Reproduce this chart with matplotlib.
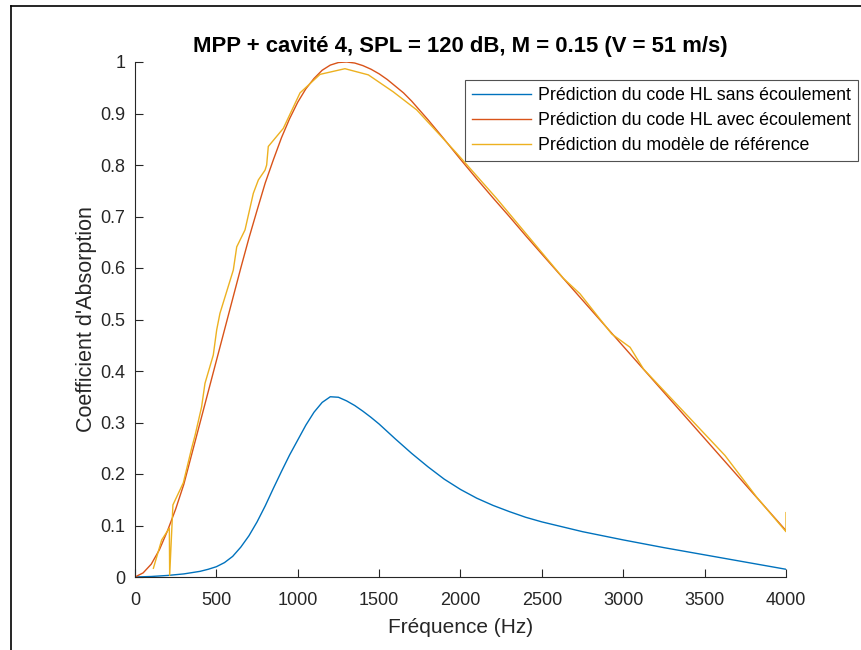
import matplotlib.pyplot as plt
from matplotlib.lines import Line2D

plt.rcParams['font.family'] = ['Liberation Sans', 'DejaVu Sans']

# blue: code HL sans ecoulement
f_sans = [0, 100, 200, 300, 400, 450, 500, 550, 600, 650, 700, 750, 800, 850, 900, 950,
          1000, 1050, 1100, 1150, 1200, 1250, 1300, 1350, 1400, 1450, 1500, 1600, 1700,
          1800, 1900, 2000, 2100, 2200, 2300, 2400, 2500, 2750, 3000, 3250, 3500, 3750, 4000]
a_sans = [0, 0.001, 0.003, 0.006, 0.011, 0.015, 0.02, 0.028, 0.04, 0.058, 0.08, 0.107, 0.138,
          0.172, 0.205, 0.237, 0.266, 0.295, 0.32, 0.339, 0.35, 0.349, 0.342, 0.333, 0.322,
          0.31, 0.297, 0.268, 0.24, 0.214, 0.19, 0.17, 0.153, 0.139, 0.127, 0.116, 0.107,
          0.088, 0.072, 0.057, 0.043, 0.029, 0.015]

# red: code HL avec ecoulement
f_avec = [0, 50, 100, 150, 200, 250, 300, 350, 400, 450, 500, 550, 600, 650, 700, 750, 800,
          850, 900, 950, 1000, 1050, 1100, 1150, 1200, 1250, 1300, 1350, 1400, 1450, 1500,
          1550, 1600, 1650, 1700, 1800, 1900, 2000, 2100, 2200, 2300, 2400, 2500, 3000,
          3500, 4000]
a_avec = [0, 0.008, 0.025, 0.053, 0.09, 0.132, 0.18, 0.24, 0.30, 0.36, 0.42, 0.48, 0.54, 0.60,
          0.658, 0.712, 0.765, 0.81, 0.853, 0.89, 0.922, 0.948, 0.968, 0.984, 0.994, 0.999,
          1.0, 0.998, 0.993, 0.986, 0.977, 0.966, 0.953, 0.94, 0.924, 0.888, 0.85, 0.811,
          0.773, 0.736, 0.70, 0.663, 0.627, 0.448, 0.269, 0.09]

# yellow: modele de reference
f_ref = [113, 164, 211, 213, 233, 297, 348, 369, 409, 430, 481, 502, 522, 604, 625, 676, 727, 758,
         799, 809, 819, 911, 1014, 1137, 1290, 1434, 1587, 1731, 1976, 2222, 2632, 2734, 2929, 3042,
         3124, 3625, 3820, 4000, 4000]
a_ref = [0.017, 0.072, 0.095, 0.003, 0.14, 0.183, 0.25, 0.275, 0.33, 0.376, 0.431, 0.48, 0.512, 0.596,
         0.641, 0.674, 0.745, 0.771, 0.79, 0.80, 0.836, 0.871, 0.94, 0.976, 0.987, 0.975, 0.942, 0.907,
         0.823, 0.735, 0.58, 0.55, 0.472, 0.446, 0.404, 0.236, 0.155, 0.088, 0.125]

labels = ['Prédiction du code HL sans écoulement',
          'Prédiction du code HL avec écoulement',
          'Prédiction du modèle de référence']

fig = plt.figure(figsize=(8.62, 6.5), dpi=100)
ax = fig.add_axes([135/862, 73/650, 651/862, 515/650])

ax.plot(f_sans, a_sans, color='#0072BD', lw=1.0, label=labels[0])
ax.plot(f_avec, a_avec, color='#D95319', lw=1.0, label=labels[1])
ax.plot(f_ref, a_ref, color='#EDB120', lw=1.0, label=labels[2])

ax.set_xlim(0, 4000)
ax.set_ylim(0, 1)
ax.set_xticks(range(0, 4001, 500))
ax.set_yticks([i / 10 for i in range(11)])
ax.set_yticklabels(['0', '0.1', '0.2', '0.3', '0.4', '0.5', '0.6', '0.7', '0.8', '0.9', '1'])

for s in ['top', 'right']:
    ax.spines[s].set_visible(False)
for s in ['left', 'bottom']:
    ax.spines[s].set_color('#262626')
    ax.spines[s].set_linewidth(0.8)
ax.tick_params(direction='in', length=6, width=0.8, colors='#262626', labelsize=13)
ax.tick_params(axis='x', pad=11)
ax.tick_params(axis='y', pad=7)

ax.set_xlabel('Fréquence (Hz)', fontsize=15, color='#262626', labelpad=6)
ax.set_ylabel("Coefficient d'Absorption", fontsize=15.5, color='#262626', labelpad=2)
ax.set_title('MPP + cavité 4, SPL = 120 dB, M = 0.15 (V = 51 m/s)', fontsize=15.9,
             fontweight='bold', color='black', pad=7)

leg = ax.legend(loc='upper left', bbox_to_anchor=(465/862, 1 - 80/650),
                bbox_transform=fig.transFigure, fontsize=12.8, frameon=True, fancybox=False,
                handlelength=3.3, handletextpad=0.4, labelspacing=0.45, borderpad=0.4,
                borderaxespad=0)
leg.get_frame().set_edgecolor('#262626')
leg.get_frame().set_linewidth(0.8)

# screenshot frame lines
fig.add_artist(Line2D([11/862, 11/862], [0, 1 - 6/650], color='black', lw=1.2,
                      transform=fig.transFigure))
fig.add_artist(Line2D([11/862, 1], [1 - 6/650, 1 - 6/650], color='black', lw=1.2,
                      transform=fig.transFigure))

fig.savefig('out.png', dpi=100)
